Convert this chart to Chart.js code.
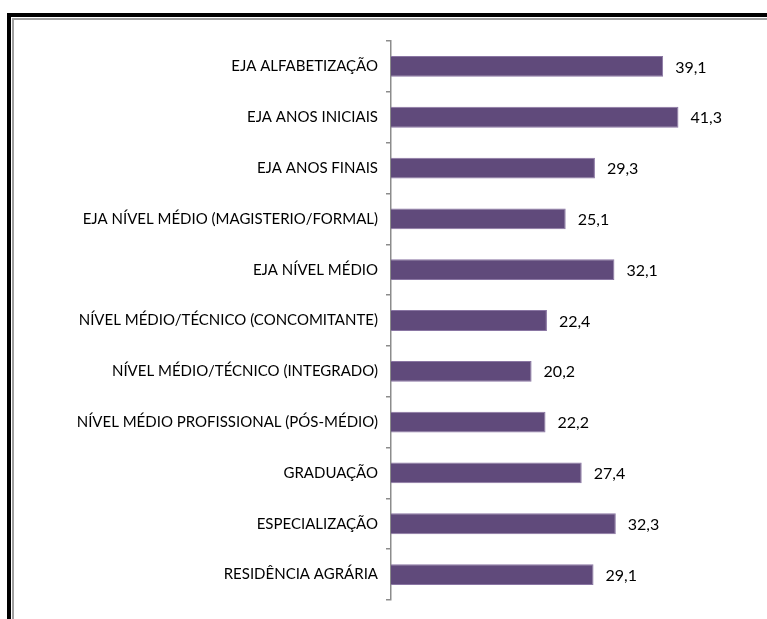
<!DOCTYPE html>
<html lang="pt">
<head>
    <meta charset="UTF-8">
    <title>Cursos</title>
    <script src="https://cdn.jsdelivr.net/npm/chart.js@4/dist/chart.umd.min.js"></script>
    <style>
        body { margin: 0; background: #fff; overflow: hidden; }
        .frame { position: absolute; left: 7px; top: 13px; width: 900px; height: 800px;
                 border-top: 4px solid #000; border-left: 4px solid #000; }
        .frame-inner { position: absolute; left: 1px; top: 1px; right: 0; bottom: 0;
                 border-top: 2px solid #a0a0a0; border-left: 2px solid #a0a0a0; }
        #chart { position: absolute; left: 0; top: 0; }
    </style>
</head>
<body>
    <div class="frame"><div class="frame-inner"></div></div>
    <canvas id="chart" width="767" height="619"></canvas>

    <script>
        // categorias e valores (%)
        const categories = [
            'EJA ALFABETIZAÇÃO',
            'EJA ANOS INICIAIS',
            'EJA ANOS FINAIS',
            'EJA NÍVEL MÉDIO (MAGISTERIO/FORMAL)',
            'EJA NÍVEL MÉDIO',
            'NÍVEL MÉDIO/TÉCNICO (CONCOMITANTE)',
            'NÍVEL MÉDIO/TÉCNICO (INTEGRADO)',
            'NÍVEL MÉDIO PROFISSIONAL (PÓS-MÉDIO)',
            'GRADUAÇÃO',
            'ESPECIALIZAÇÃO',
            'RESIDÊNCIA AGRÁRIA'
        ];
        const values = [39.1, 41.3, 29.3, 25.1, 32.1, 22.4, 20.2, 22.2, 27.4, 32.3, 29.1];
        const valueLabels = ['39,1', '41,3', '29,3', '25,1', '32,1', '22,4', '20,2', '22,2', '27,4', '32,3', '29,1'];

        // rótulos de valor à direita das barras
        const barValues = {
            id: 'barValues',
            afterDatasetsDraw(chart) {
                const ctx = chart.ctx;
                const meta = chart.getDatasetMeta(0);
                ctx.save();
                ctx.font = '16px Lato';
                ctx.fillStyle = '#000';
                ctx.textAlign = 'left';
                ctx.textBaseline = 'middle';
                meta.data.forEach((bar, i) => {
                    ctx.fillText(valueLabels[i], bar.x + 12, bar.y + 1);
                });
                ctx.restore();
            }
        };

        new Chart(document.getElementById('chart'), {
            type: 'bar',
            data: {
                labels: categories,
                datasets: [{
                    data: values,
                    backgroundColor: '#604a7b',
                    borderColor: '#8a76a3',
                    borderWidth: 1,
                    barPercentage: 0.82,
                    categoryPercentage: 0.5
                }]
            },
            options: {
                indexAxis: 'y',
                responsive: false,
                animation: false,
                layout: { padding: { top: 41, bottom: 19, left: 0, right: 28 } },
                plugins: { legend: { display: false }, tooltip: { enabled: false } },
                scales: {
                    x: { display: false, min: 0, max: 50 },
                    y: {
                        afterFit(scale) { scale.width = 391; },
                        border: { color: '#8c8c8c', width: 1.5 },
                        grid: { drawOnChartArea: false, tickLength: 5, color: '#8c8c8c', lineWidth: 1.5 },
                        ticks: { color: '#000', font: { family: 'Lato', size: 15 }, padding: 8 }
                    }
                }
            },
            plugins: [barValues]
        });
    </script>
</body>
</html>
